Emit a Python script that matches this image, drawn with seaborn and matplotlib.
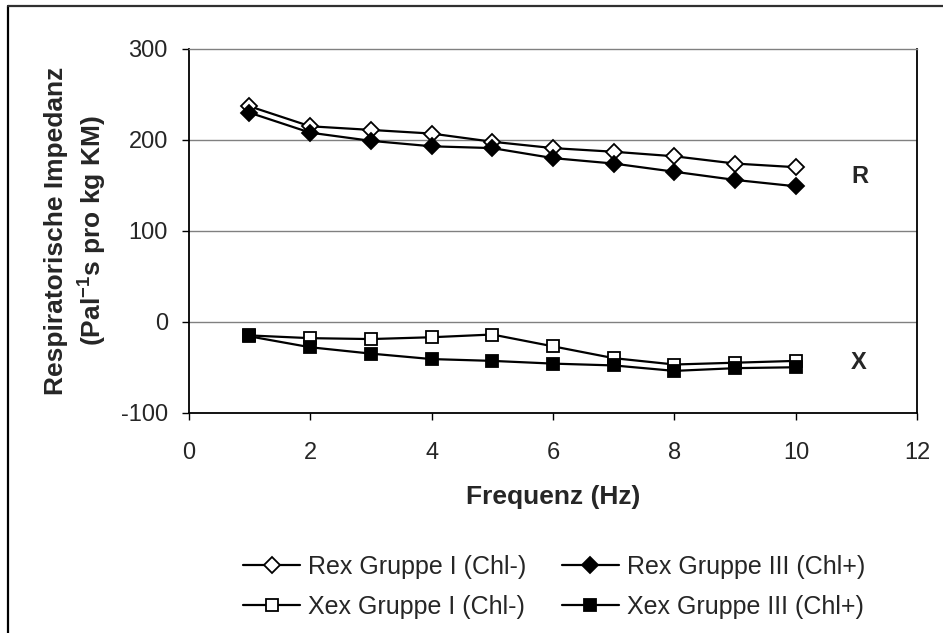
import numpy as np
import pandas as pd
import matplotlib
matplotlib.use('Agg')
import matplotlib.pyplot as plt
from matplotlib.lines import Line2D
import seaborn as sns

# Daten
freq = [1, 2, 3, 4, 5, 6, 7, 8, 9, 10]
rex_gruppe1 = [237, 215, 211, 207, 198, 191, 187, 182, 174, 170]
rex_gruppe3 = [230, 208, 199, 193, 191, 180, 174, 165, 156, 149]
xex_gruppe1 = [-15, -18, -19, -17, -14, -27, -40, -47, -45, -43]
xex_gruppe3 = [-16, -28, -35, -41, -43, -46, -48, -54, -51, -50]

series_names = ['Rex Gruppe I (Chl-)', 'Rex Gruppe III (Chl+)',
                'Xex Gruppe I (Chl-)', 'Xex Gruppe III (Chl+)']
xticks = [0, 2, 4, 6, 8, 10, 12]
yticks = [-100, 0, 100, 200, 300]

sns.set_style('white')
plt.rcParams['font.family'] = ['Liberation Sans', 'DejaVu Sans']
plt.rcParams['mathtext.fontset'] = 'custom'
plt.rcParams['mathtext.rm'] = 'Liberation Sans'
plt.rcParams['mathtext.bf'] = 'Liberation Sans:bold'
plt.rcParams['axes.unicode_minus'] = False

fig = plt.figure(figsize=(9.43, 6.33), dpi=100)
ax = fig.add_axes([0.2001, 0.348, 0.7727, 0.5746])

# Gitterlinien
for yv in [0, 100, 200]:
    ax.axhline(yv, color='#808080', lw=1, zorder=0)

styles = [
    (rex_gruppe1, 'D', 'white', 8),
    (rex_gruppe3, 'D', 'black', 8),
    (xex_gruppe1, 's', 'white', 9),
    (xex_gruppe3, 's', 'black', 9),
]
handles = []
for name, (vals, mk, fc, ms) in zip(series_names, styles):
    df = pd.DataFrame({'Frequenz': freq, 'Wert': vals})
    sns.lineplot(data=df, x='Frequenz', y='Wert', ax=ax, color='black',
                 linewidth=1.6, marker=mk, markersize=ms,
                 markerfacecolor=fc, markeredgecolor='black',
                 markeredgewidth=1.3, legend=False)
    handles.append(Line2D([], [], color='black', lw=1.6, marker=mk,
                          markersize=ms, markerfacecolor=fc,
                          markeredgecolor='black', markeredgewidth=1.3,
                          label=name))

ax.set_xlim(0, 12)
ax.set_ylim(-100, 300)
ax.set_xticks(xticks)
ax.set_yticks(yticks)
ax.tick_params(axis='both', labelsize=17, direction='out', length=5,
               width=1, color='black', left=True, bottom=True)
ax.tick_params(axis='x', pad=16)
ax.tick_params(axis='y', pad=10)

for side in ['left', 'bottom', 'right']:
    ax.spines[side].set_color('black')
    ax.spines[side].set_linewidth(1.3)
ax.spines['top'].set_color('#808080')
ax.spines['top'].set_linewidth(1)

ax.set_xlabel('Frequenz (Hz)', fontsize=19, fontweight='bold')
ax.xaxis.set_label_coords(0.5, -0.20)
ax.set_ylabel('Respiratorische Impedanz\n(Pal$\\mathbf{^{-1}}$s pro kg KM)',
              fontsize=19, fontweight='bold', linespacing=1.35)
ax.yaxis.set_label_coords(-0.109, 0.5)

ax.text(11.06, 160, 'R', fontsize=17, fontweight='bold', ha='center', va='center')
ax.text(11.04, -45, 'X', fontsize=17, fontweight='bold', ha='center', va='center')

order = [0, 2, 1, 3]
fig.legend([handles[i] for i in order], [series_names[i] for i in order],
           loc='center', bbox_to_anchor=(0.5875, 0.0727), ncol=2,
           frameon=False, fontsize=18, handlelength=2.28, handletextpad=0.32,
           columnspacing=1.4, labelspacing=0.65)

# Rahmen um die Abbildung (oben und links sichtbar)
fig.add_artist(Line2D([0.0085, 0.0085], [0, 0.9905], color='black', lw=1.6,
                      transform=fig.transFigure))
fig.add_artist(Line2D([0.0085, 1.0], [0.9905, 0.9905], color='#303030', lw=1.6,
                      transform=fig.transFigure))

fig.savefig('out.png', dpi=100)
plt.close(fig)
